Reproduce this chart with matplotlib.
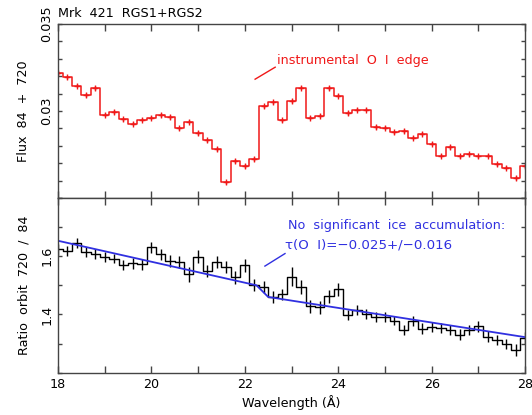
import numpy as np
import matplotlib
matplotlib.use("Agg")
import matplotlib.pyplot as plt
from matplotlib.ticker import FixedLocator, MultipleLocator, FuncFormatter

# === Datos ===
wavelength = np.round(np.arange(18.0, 28.01, 0.2), 1)

flux = [0.03219, 0.03193, 0.03146, 0.03092, 0.03131, 0.02979, 0.02993, 0.02952,
        0.02927, 0.02950, 0.02962, 0.02977, 0.02965, 0.02900, 0.02939, 0.02873,
        0.02831, 0.02781, 0.02589, 0.02712, 0.02685, 0.02723, 0.03027, 0.03050,
        0.02946, 0.03058, 0.03135, 0.02962, 0.02973, 0.03131, 0.03089, 0.02988,
        0.03008, 0.03008, 0.02908, 0.02904, 0.02877, 0.02885, 0.02847, 0.02870,
        0.02812, 0.02743, 0.02792, 0.02739, 0.02750, 0.02739, 0.02743, 0.02693,
        0.02674, 0.02616, 0.02685]
flux_err = [0.0001] * len(flux)

ratio = [1.623, 1.617, 1.646, 1.615, 1.606, 1.598, 1.592, 1.569, 1.575, 1.572,
         1.630, 1.607, 1.584, 1.580, 1.538, 1.598, 1.549, 1.580, 1.563, 1.527,
         1.569, 1.500, 1.494, 1.460, 1.469, 1.529, 1.494, 1.428, 1.425, 1.462,
         1.487, 1.397, 1.414, 1.400, 1.391, 1.391, 1.379, 1.347, 1.377, 1.351,
         1.356, 1.354, 1.347, 1.331, 1.347, 1.359, 1.324, 1.313, 1.299, 1.278,
         1.320]
ratio_err = [0.018, 0.018, 0.017, 0.017, 0.017, 0.017, 0.017, 0.018, 0.018, 0.018,
             0.019, 0.019, 0.02, 0.02, 0.026, 0.022, 0.022, 0.022, 0.022, 0.022,
             0.022, 0.02, 0.02, 0.02, 0.02, 0.033, 0.025, 0.022, 0.022, 0.022,
             0.022, 0.017, 0.017, 0.017, 0.017, 0.017, 0.017, 0.018, 0.018, 0.018,
             0.018, 0.018, 0.018, 0.018, 0.018, 0.018, 0.018, 0.018, 0.018, 0.02,
             0.02]

# modelo (continuo + borde O I)
model_x = [18.0, 22.25, 22.5, 28.0]
model_y = [1.653, 1.500, 1.460, 1.322]

plt.rcParams['font.family'] = ['DejaVu Sans']
plt.rcParams['font.size'] = 9.2

fig = plt.figure(figsize=(5.32, 4.15), dpi=100)
ax1 = fig.add_axes([0.109, 0.523, 0.878, 0.419])
ax2 = fig.add_axes([0.109, 0.102, 0.878, 0.421])

rojo = '#f01818'
azul = '#3030e0'
eje = '#444444'

# --- Panel superior: flujo ---
ax1.plot(wavelength, flux, drawstyle='steps-mid', color=rojo, lw=1.1)
ax1.errorbar(wavelength, flux, yerr=flux_err, fmt='+', color=rojo, ms=4,
             elinewidth=1, mew=1)
ax1.set_xlim(18, 28)
ax1.set_ylim(0.025, 0.035)
ax1.yaxis.set_major_locator(FixedLocator([0.03, 0.035]))
ax1.yaxis.set_minor_locator(MultipleLocator(0.001))
ax1.yaxis.set_major_formatter(FuncFormatter(lambda v, p: f"{v:g}"))
ax1.set_ylabel("Flux  84  +  720", labelpad=7)
ax1.tick_params(axis='x', labelbottom=False)
ax1.text(0.0, 1.025, "Mrk  421  RGS1+RGS2", transform=ax1.transAxes,
         ha='left', va='bottom')
ax1.plot([22.22, 22.65], [0.03183, 0.03252], color=rojo, lw=1)
ax1.text(22.68, 0.03292, "instrumental  O  I  edge", color=rojo,
         ha='left', va='center')

# --- Panel inferior: cociente ---
ax2.plot(wavelength, ratio, drawstyle='steps-mid', color='black', lw=1)
ax2.errorbar(wavelength, ratio, yerr=ratio_err, fmt='none', ecolor='black',
             elinewidth=1)
ax2.plot(model_x, model_y, color=azul, lw=1.3)
ax2.set_xlim(18, 28)
ax2.set_ylim(1.2, 1.8)
ax2.yaxis.set_major_locator(FixedLocator([1.4, 1.6]))
ax2.yaxis.set_minor_locator(MultipleLocator(0.1))
ax2.yaxis.set_major_formatter(FuncFormatter(lambda v, p: f"{v:.1f}"))
ax2.set_ylabel("Ratio  orbit  720  /  84", labelpad=7)
ax2.set_xlabel("Wavelength (Å)", labelpad=3)
ax2.plot([22.43, 22.86], [1.566, 1.609], color=azul, lw=1)
ax2.text(22.93, 1.707, "No  significant  ice  accumulation:", color=azul,
         ha='left', va='center')
ax2.text(22.86, 1.638, "τ(O  I)=\u22120.025+/\u22120.016", color=azul,
         ha='left', va='center', fontsize=9.6)

for ax in (ax1, ax2):
    ax.xaxis.set_major_locator(MultipleLocator(2))
    ax.xaxis.set_minor_locator(MultipleLocator(1))
    ax.tick_params(which='both', direction='in', top=True, right=True,
                   color=eje, width=1)
    ax.tick_params(axis='x', which='both', length=5)
    ax.tick_params(axis='y', which='both', length=3)
    for lbl in ax.get_yticklabels():
        lbl.set_rotation(90)
        lbl.set_va('center')
    for s in ax.spines.values():
        s.set_color(eje)
        s.set_linewidth(1)

plt.savefig("out.png", dpi=100)
plt.close()
